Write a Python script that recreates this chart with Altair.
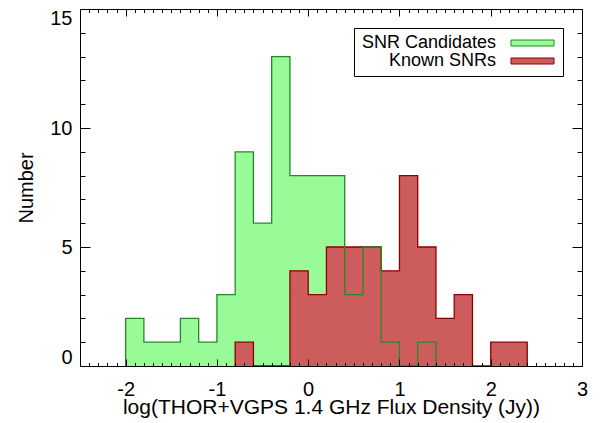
import altair as alt
import pandas as pd

# ---- data (bin width 0.2) ----
bin_left = [-2.0, -1.8, -1.6, -1.4, -1.2, -1.0, -0.8, -0.6, -0.4, -0.2, 0.0,
            0.2, 0.4, 0.6, 0.8, 1.0, 1.2, 1.4, 1.6, 1.8, 2.0, 2.2]
bin_width = 0.2
candidates = [2, 1, 1, 2, 1, 3, 9, 6, 13, 8, 8, 8, 3, 5, 1, 0, 1, 0, 0, 0, 0, 0]
known = [0, 0, 0, 0, 0, 0, 1, 0, 0, 4, 3, 5, 5, 5, 4, 8, 5, 2, 3, 0, 1, 1]
series_names = ["SNR Candidates", "Known SNRs"]
fill_colors = ["#98FB98", "#CD5C5C"]
line_colors = ["#228B22", "#8B0000"]

x_major = [-2, -1, 0, 1, 2, 3]
y_major = [0, 5, 10, 15]
x_minor = [round(i * 0.1, 1) for i in range(-25, 31) if i % 10 != 0]
y_minor = [v for v in range(0, 16) if v % 5 != 0]

FONT = "Liberation Sans"
W, H = 502, 357


def step_rows(name, counts):
    nz = [i for i, c in enumerate(counts) if c > 0]
    a, b = nz[0], nz[-1]
    rows = [{"series": name, "x": bin_left[a], "n": 0}]
    for i in range(a, b + 1):
        rows.append({"series": name, "x": bin_left[i], "n": counts[i]})
    rows.append({"series": name, "x": bin_left[b] + bin_width, "n": 0})
    return rows


df = pd.DataFrame(step_rows(series_names[0], candidates) + step_rows(series_names[1], known))

xscale = alt.Scale(domain=[-2.5, 3], nice=False, zero=False)
yscale = alt.Scale(domain=[0, 15], nice=False, zero=False)

legend = alt.Legend(
    title=None, orient="none", legendX=274, legendY=19,
    symbolType="M-7.17,-1L7.17,-1L7.17,1L-7.17,1Z", symbolSize=36,
    symbolStrokeWidth=1, symbolOpacity=1,
    labelAlign="right", labelOffset={"expr": "-45.5"}, symbolOffset=163.5,
    rowPadding=0, padding=6,
    strokeColor="black", fillColor="white",
    labelFont=FONT, labelFontSize=18, labelColor="black", labelLimit=300,
)
fill_enc = alt.Fill("series:N", scale=alt.Scale(domain=series_names, range=fill_colors), legend=legend)
stroke_enc = alt.Stroke("series:N", scale=alt.Scale(domain=series_names, range=line_colors), legend=legend)


def tick_axis(orient, offset, values, size):
    return alt.Axis(orient=orient, offset=offset, values=values, tickSize=size, ticks=True,
                    labels=False, domain=True, domainColor="black", tickColor="black",
                    tickWidth=1, domainWidth=1, grid=False, title=None, zindex=1)


x_main = alt.Axis(orient="bottom", values=x_major, ticks=False, domain=False, grid=False,
                  labelPadding=13, labelFont=FONT, labelFontSize=20, labelColor="black",
                  labelFlush=False, labelOverlap=False,
                  labelExpr="datum.value < 0 ? '-' + abs(datum.value) : '' + datum.value",
                  title="log(THOR+VGPS 1.4 GHz Flux Density (Jy))", titleFont=FONT,
                  titleFontSize=21, titleFontWeight="normal", titleColor="black",
                  titleY=47, titleBaseline="alphabetic")
y_main = alt.Axis(orient="left", values=y_major, ticks=False, domain=False, grid=False,
                  labelPadding=8, labelFont=FONT, labelFontSize=20, labelColor="black",
                  labelFlush=True, labelFlushOffset=1,
                  title="Number", titleFont=FONT, titleFontSize=20, titleFontWeight="normal",
                  titleColor="black", titleX=-48, titleY=H / 2, titleBaseline="alphabetic")

base = alt.Chart(df)
cand = base.transform_filter(alt.datum.series == series_names[0])
knwn = base.transform_filter(alt.datum.series == series_names[1])

green_area = cand.mark_area(interpolate="step-after", opacity=1).encode(
    x=alt.X("x:Q", scale=xscale, axis=x_main),
    y=alt.Y("n:Q", scale=yscale, axis=y_main),
    fill=fill_enc,
)
red_area = knwn.mark_area(interpolate="step-after", opacity=1).encode(
    x=alt.X("x:Q", scale=xscale, axis=tick_axis("top", -H, x_major, 7)),
    y=alt.Y("n:Q", scale=yscale, axis=tick_axis("right", -W, y_major, 10)),
    fill=fill_enc,
)
red_line = knwn.mark_line(interpolate="step-after", strokeWidth=1.3).encode(
    x=alt.X("x:Q", scale=xscale, axis=tick_axis("top", -H, x_minor, 3.5)),
    y=alt.Y("n:Q", scale=yscale, axis=tick_axis("right", -W, y_minor, 5)),
    stroke=stroke_enc,
)
green_line = cand.mark_line(interpolate="step-after", strokeWidth=1.3).encode(
    x=alt.X("x:Q", scale=xscale, axis=tick_axis("bottom", -H, x_major, 7)),
    y=alt.Y("n:Q", scale=yscale, axis=tick_axis("left", -W, y_major, 10)),
    stroke=stroke_enc,
)
ghost = cand.mark_line(opacity=0).encode(
    x=alt.X("x:Q", scale=xscale, axis=tick_axis("bottom", -H, x_minor, 3.5)),
    y=alt.Y("n:Q", scale=yscale, axis=tick_axis("left", -W, y_minor, 5)),
)

chart = alt.layer(green_area, red_area, red_line, green_line, ghost).resolve_axis(
    x="independent", y="independent"
).properties(
    width=W, height=H,
    autosize=alt.AutoSizeParams(type="none"),
    padding={"left": 72, "top": 1, "right": 17, "bottom": 53},
).configure_view(stroke="transparent")

chart.save("out.html", embed_options={"renderer": "svg", "actions": False})
